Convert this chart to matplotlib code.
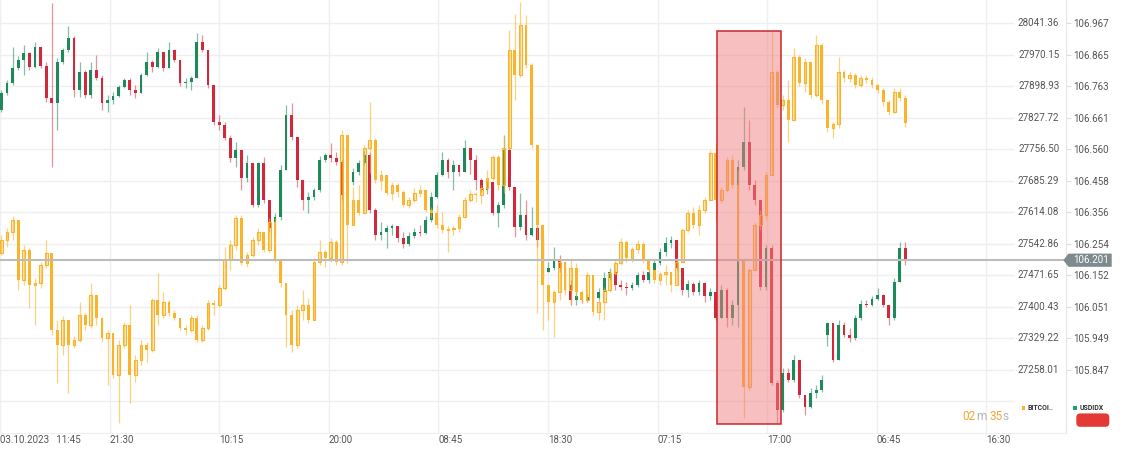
import numpy as np
import matplotlib
matplotlib.use('Agg')
import matplotlib.pyplot as plt
import matplotlib.transforms as mtransforms
from matplotlib.patches import Rectangle, Polygon, FancyBboxPatch
from matplotlib.lines import Line2D

plt.rcParams['font.family'] = ['Roboto', 'DejaVu Sans']

# ---------------- data ----------------
x_labels = ['03.10.2023   11:45', '21:30', '10:15', '20:00', '08:45', '18:30',
            '07:15', '17:00', '06:45', '16:30']
btc_ticks = [28041.36, 27970.15, 27898.93, 27827.72, 27756.50, 27685.29,
             27614.08, 27542.86, 27471.65, 27400.43, 27329.22, 27258.01]
usd_ticks = [106.967, 106.865, 106.763, 106.661, 106.560, 106.458,
             106.356, 106.254, 106.152, 106.051, 105.949, 105.847]

btc_open0 = 27522
btc_close = [
    27551, 27569, 27597, 27461, 27529, 27449, 27454, 27495, 27522, 27348,
    27314, 27370, 27314, 27325, 27382, 27359, 27427, 27375, 27330, 27341,
    27246, 27314, 27359, 27246, 27280, 27314, 27302, 27416, 27382, 27411,
    27386, 27375, 27352, 27348, 27375, 27325, 27352, 27409, 27404, 27443,
    27506, 27540, 27601, 27499, 27517, 27551, 27569, 27529, 27592, 27506,
    27454, 27382, 27314, 27393, 27404, 27370, 27502, 27524, 27511, 27547,
    27502, 27789, 27585, 27642, 27612, 27759, 27777, 27687, 27698, 27658,
    27676, 27660, 27630, 27642, 27658, 27664, 27619, 27612, 27585, 27574,
    27576, 27578, 27603, 27642, 27655, 27653, 27669, 27691, 27739, 27676,
    27759, 27981, 27924, 28037, 27947, 27766, 27585, 27449, 27411, 27434,
    27502, 27438, 27488, 27434, 27416, 27472, 27388, 27411, 27438, 27477,
    27499, 27547, 27511, 27531, 27542, 27506, 27483, 27461, 27474, 27479,
    27449, 27502, 27574, 27612, 27585, 27619, 27642, 27748, 27642, 27664,
    27732, 27676, 27506, 27219, 27483, 27585, 27608, 27698, 27931, 27857,
    27868, 27823, 27965, 27906, 27954, 27879, 27992, 27868, 27805, 27814,
    27931, 27918, 27924, 27902, 27918, 27913, 27902, 27890, 27863, 27841,
    27886, 27872, 27816]
btc_high = [
    27563, 27578, 27606, 27592, 27540, 27533, 27465, 27502, 27551, 27522,
    27370, 27379, 27336, 27334, 27411, 27386, 27454, 27427, 27375, 27348,
    27341, 27325, 27366, 27404, 27291, 27325, 27321, 27420, 27477, 27434,
    27416, 27393, 27375, 27359, 27382, 27382, 27359, 27416, 27416, 27449,
    27535, 27551, 27608, 27608, 27524, 27558, 27578, 27563, 27601, 27601,
    27506, 27454, 27393, 27404, 27438, 27420, 27511, 27551, 27529, 27556,
    27551, 27800, 27743, 27671, 27676, 27766, 27863, 27782, 27710, 27698,
    27682, 27680, 27664, 27649, 27669, 27676, 27664, 27626, 27630, 27615,
    27583, 27583, 27610, 27649, 27664, 27660, 27676, 27710, 27743, 27743,
    27784, 28026, 28062, 28089, 28060, 27952, 27766, 27585, 27449, 27438,
    27511, 27502, 27511, 27499, 27438, 27479, 27449, 27416, 27445, 27483,
    27506, 27556, 27551, 27535, 27551, 27547, 27511, 27483, 27479, 27495,
    27479, 27511, 27578, 27619, 27626, 27630, 27649, 27755, 27771, 27671,
    27739, 27743, 27710, 27506, 27488, 27592, 27619, 27705, 28022, 27936,
    27879, 27913, 27985, 27970, 27963, 27954, 28015, 27997, 27868, 27818,
    27965, 27936, 27931, 27929, 27924, 27924, 27920, 27904, 27895, 27868,
    27895, 27895, 27879]
btc_low = [
    27517, 27535, 27551, 27438, 27449, 27397, 27359, 27443, 27488, 27336,
    27228, 27291, 27205, 27307, 27321, 27348, 27352, 27359, 27321, 27223,
    27239, 27137, 27307, 27183, 27230, 27269, 27275, 27298, 27359, 27375,
    27379, 27370, 27348, 27336, 27343, 27321, 27321, 27348, 27382, 27400,
    27438, 27483, 27529, 27495, 27490, 27513, 27540, 27524, 27524, 27502,
    27445, 27309, 27298, 27307, 27370, 27364, 27370, 27495, 27490, 27502,
    27495, 27495, 27499, 27585, 27608, 27612, 27703, 27680, 27664, 27653,
    27642, 27649, 27626, 27624, 27637, 27649, 27615, 27601, 27578, 27567,
    27524, 27563, 27569, 27601, 27637, 27637, 27633, 27664, 27687, 27664,
    27658, 27759, 27868, 27920, 27940, 27759, 27386, 27348, 27370, 27332,
    27416, 27427, 27404, 27422, 27409, 27411, 27379, 27370, 27370, 27434,
    27472, 27495, 27502, 27502, 27522, 27499, 27477, 27454, 27449, 27449,
    27434, 27449, 27502, 27569, 27578, 27563, 27612, 27642, 27597, 27635,
    27660, 27669, 27502, 27149, 27212, 27483, 27574, 27597, 27698, 27850,
    27845, 27773, 27823, 27900, 27886, 27872, 27875, 27859, 27796, 27782,
    27805, 27909, 27909, 27895, 27897, 27906, 27895, 27884, 27854, 27834,
    27838, 27866, 27807]

usd_open0 = 106.687
usd_close = [
    106.742, 106.774, 106.822, 106.848, 106.871, 106.826, 106.890, 106.829, 106.725, 106.709,
    106.842, 106.881, 106.919, 106.751, 106.810, 106.735, 106.816, 106.790, 106.709, 106.719,
    106.732, 106.761, 106.784, 106.751, 106.742, 106.800, 106.842, 106.826, 106.874, 106.822,
    106.881, 106.848, 106.774, 106.777, 106.790, 106.906, 106.881, 106.768, 106.648, 106.638,
    106.596, 106.531, 106.557, 106.467, 106.515, 106.379, 106.515, 106.396, 106.305, 106.341,
    106.493, 106.670, 106.600, 106.460, 106.396, 106.405, 106.428, 106.525, 106.541, 106.531,
    106.518, 106.412, 106.454, 106.486, 106.515, 106.541, 106.363, 106.282, 106.292, 106.305,
    106.312, 106.273, 106.253, 106.279, 106.292, 106.289, 106.331, 106.405, 106.476, 106.525,
    106.486, 106.509, 106.486, 106.564, 106.525, 106.460, 106.428, 106.454, 106.354, 106.379,
    106.557, 106.438, 106.308, 106.347, 106.282, 106.305, 106.266, 106.163, 106.176, 106.202,
    106.176, 106.121, 106.072, 106.085, 106.072, 106.082, 106.079, 106.098, 106.143, 106.163,
    106.121, 106.114, 106.111, 106.121, 106.153, 106.137, 106.163, 106.192, 106.227, 106.257,
    106.266, 106.176, 106.105, 106.124, 106.098, 106.127, 106.085, 106.098, 106.014, 106.105,
    106.014, 106.056, 106.502, 106.583, 106.444, 106.396, 106.114, 106.240, 105.804, 105.717,
    105.836, 105.814, 105.878, 105.765, 105.726, 105.771, 105.781, 105.814, 105.998, 105.878,
    105.992, 105.959, 105.949, 106.014, 106.059, 106.056, 106.075, 106.088, 106.056, 106.014,
    106.131, 106.240, 106.201]
usd_high = [
    106.751, 106.784, 106.890, 106.861, 106.897, 106.874, 106.906, 106.890, 106.842, 107.033,
    106.855, 106.887, 106.958, 106.926, 106.842, 106.816, 106.842, 106.864, 106.800, 106.735,
    106.745, 106.768, 106.790, 106.790, 106.768, 106.806, 106.874, 106.848, 106.887, 106.874,
    106.906, 106.884, 106.848, 106.790, 106.797, 106.936, 106.929, 106.881, 106.768, 106.670,
    106.648, 106.606, 106.583, 106.557, 106.541, 106.515, 106.520, 106.535, 106.396, 106.354,
    106.509, 106.703, 106.709, 106.573, 106.460, 106.422, 106.434, 106.538, 106.548, 106.580,
    106.551, 106.525, 106.467, 106.499, 106.525, 106.554, 106.551, 106.370, 106.325, 106.315,
    106.318, 106.305, 106.292, 106.292, 106.305, 106.315, 106.344, 106.422, 106.486, 106.551,
    106.531, 106.525, 106.509, 106.590, 106.548, 106.541, 106.467, 106.460, 106.434, 106.389,
    106.606, 106.564, 106.373, 106.418, 106.396, 106.373, 106.315, 106.273, 106.195, 106.244,
    106.218, 106.176, 106.137, 106.121, 106.098, 106.092, 106.105, 106.111, 106.163, 106.176,
    106.163, 106.137, 106.131, 106.131, 106.163, 106.166, 106.176, 106.202, 106.240, 106.276,
    106.279, 106.266, 106.176, 106.137, 106.131, 106.137, 106.131, 106.111, 106.098, 106.121,
    106.111, 106.072, 106.525, 106.696, 106.654, 106.460, 106.363, 106.250, 106.250, 105.814,
    105.852, 105.852, 105.894, 105.878, 105.765, 105.788, 105.797, 105.830, 106.001, 105.992,
    106.008, 106.001, 105.982, 106.024, 106.072, 106.072, 106.085, 106.111, 106.092, 106.056,
    106.143, 106.260, 106.260]
usd_low = [
    106.680, 106.735, 106.768, 106.816, 106.800, 106.816, 106.822, 106.822, 106.712, 106.502,
    106.622, 106.835, 106.874, 106.729, 106.729, 106.725, 106.725, 106.784, 106.687, 106.680,
    106.706, 106.729, 106.758, 106.735, 106.725, 106.742, 106.797, 106.810, 106.822, 106.813,
    106.822, 106.842, 106.764, 106.758, 106.751, 106.790, 106.874, 106.758, 106.638, 106.622,
    106.590, 106.518, 106.502, 106.428, 106.454, 106.373, 106.373, 106.386, 106.292, 106.282,
    106.331, 106.493, 106.590, 106.438, 106.363, 106.354, 106.396, 106.422, 106.518, 106.518,
    106.509, 106.396, 106.409, 106.444, 106.476, 106.509, 106.354, 106.266, 106.266, 106.240,
    106.282, 106.260, 106.240, 106.247, 106.273, 106.279, 106.286, 106.325, 106.402, 106.473,
    106.467, 106.428, 106.473, 106.486, 106.480, 106.428, 106.422, 106.415, 106.347, 106.308,
    106.370, 106.428, 106.276, 106.299, 106.266, 106.279, 106.244, 106.143, 106.163, 106.169,
    106.163, 106.105, 106.056, 106.056, 106.063, 106.066, 106.066, 106.072, 106.098, 106.137,
    106.105, 106.105, 106.088, 106.105, 106.114, 106.131, 106.127, 106.153, 106.185, 106.215,
    106.240, 106.169, 106.088, 106.082, 106.088, 106.088, 106.066, 106.072, 106.008, 106.014,
    105.985, 105.992, 105.985, 106.493, 106.428, 106.379, 106.105, 106.105, 105.797, 105.674,
    105.710, 105.807, 105.807, 105.755, 105.700, 105.723, 105.755, 105.775, 105.924, 105.872,
    105.878, 105.953, 105.937, 105.943, 106.008, 106.050, 106.053, 106.072, 106.050, 105.992,
    106.008, 106.131, 106.185]
usd_gap_index = 148          # session gap: this candle opens away from prior close
usd_gap_open = 105.959
usd_last = 106.201

highlight_idx = [128.2, 139.7]        # highlighted time window (candle index)
highlight_btc = [27135, 28024]        # highlighted price band (BTC scale)

timer_text = '02m 35s'
timer_orange = [(0, 2), (4, 6)]      # character spans drawn in orange
legend_names = ['BITCOI..', 'USDIDX']

# ---------------- colours ----------------
BTC_COL = '#f9b42a'
USD_UP = '#1e8a5c'
USD_DN = '#d2283b'
GRID = '#efefef'
TXT = '#555555'

# ---------------- figure layout ----------------
W, H = 1123, 450
fig = plt.figure(figsize=(W / 100, H / 100), dpi=100, facecolor='white')
ax_right_px = 1065.7
plot_h_px = 433
ax_u = fig.add_axes([0, (H - plot_h_px) / H, ax_right_px / W, plot_h_px / H])
ax_b = ax_u.twinx()

px_per_candle = 5.58
first_px = 1.5
x_left = -first_px / px_per_candle
x_right = (ax_right_px - first_px) / px_per_candle
candles_per_label = 19.64

grid_px = 31.49
first_grid_px = 23.3


def ylims(ticks):
    step = (ticks[0] - ticks[-1]) / (len(ticks) - 1)
    top = ticks[0] + step * first_grid_px / grid_px
    bot = top - step * plot_h_px / grid_px
    return bot, top, step


ub, ut, ustep = ylims(usd_ticks)
bb, bt, bstep = ylims(btc_ticks)


def draw_candles(ax, open0, closes, highs, lows, up_body, dn_body,
                 up_wick, dn_wick, min_h, width, gap=None):
    closes = np.asarray(closes, float)
    opens = np.concatenate([[open0], closes[:-1]])
    if gap is not None:
        opens[gap[0]] = gap[1]
    highs = np.maximum(np.asarray(highs, float), np.maximum(opens, closes))
    lows = np.minimum(np.asarray(lows, float), np.minimum(opens, closes))
    x = np.arange(len(closes))
    up = closes >= opens
    ax.vlines(x[up], lows[up], highs[up], color=up_wick, lw=0.9, zorder=2)
    ax.vlines(x[~up], lows[~up], highs[~up], color=dn_wick, lw=0.9, zorder=2)
    bottom = np.minimum(opens, closes)
    height = np.maximum(np.abs(closes - opens), min_h)
    ax.bar(x[up], height[up], width, bottom[up], zorder=3, **up_body)
    ax.bar(x[~up], height[~up], width, bottom[~up], zorder=3, **dn_body)


# USD candles (lower layer)
draw_candles(ax_u, usd_open0, usd_close, usd_high, usd_low,
             dict(color=USD_UP, linewidth=0),
             dict(color=USD_DN, linewidth=0),
             (0.12, 0.54, 0.36, 0.55), (0.82, 0.16, 0.23, 0.5),
             0.002, 0.5, gap=(usd_gap_index, usd_gap_open))

# BTC candles (upper layer, hollow when rising)
draw_candles(ax_b, btc_open0, btc_close, btc_high, btc_low,
             dict(facecolor=(0.976, 0.706, 0.165, 0.25), edgecolor=BTC_COL, linewidth=0.8),
             dict(color=BTC_COL, linewidth=0),
             (0.976, 0.706, 0.165, 0.6), (0.976, 0.706, 0.165, 0.6),
             1.5, 0.5)

for ax in (ax_u, ax_b):
    ax.set_xlim(x_left, x_right)
ax_u.set_ylim(ub, ut)
ax_b.set_ylim(bb, bt)

# grid lines
tick_pos = x_left + np.arange(len(x_labels)) * candles_per_label
ax_u.set_xticks(tick_pos)
ax_u.set_xticklabels(x_labels, ha='left')
ax_u.tick_params(axis='x', length=0, pad=1.6, labelsize=7, labelcolor=TXT)
ax_u.grid(axis='x', color=GRID, lw=1)
ax_u.set_axisbelow(True)
grid_frac = 1013 / ax_right_px
for v in list(usd_ticks) + [usd_ticks[-1] - ustep]:
    ax_u.axhline(v, xmin=0, xmax=grid_frac, color=GRID, lw=1, zorder=0)

# USD axis labels on right
ax_u.yaxis.tick_right()
ax_u.set_yticks(usd_ticks)
ax_u.set_yticklabels([f'{v:.3f}' for v in usd_ticks])
ax_u.tick_params(axis='y', length=3.3, width=0.8, color='#dcdcdc', pad=1.8,
                 labelsize=7.1, labelcolor=TXT)
for s in ('top', 'left'):
    ax_u.spines[s].set_visible(False)
ax_u.spines['right'].set_color('#e6e6e6')
ax_u.spines['bottom'].set_color('#eeeeee')

# BTC axis labels
ax_b.set_yticks([])
ax_b.tick_params(right=False, labelright=False)
for s in ax_b.spines.values():
    s.set_visible(False)
btrans = mtransforms.blended_transform_factory(ax_b.transAxes, ax_b.transData)
for v in btc_ticks:
    ax_b.text(1059.3 / ax_right_px, v, f'{v:.2f}', transform=btrans, ha='right',
              va='center', fontsize=7.1, color=TXT)

# last-price line
ptrans = mtransforms.blended_transform_factory(ax_b.transAxes, ax_u.transData)
ax_b.add_line(Line2D([0, 1063.3 / ax_right_px], [usd_last, usd_last], transform=ptrans,
                     color='#b9bdc0', lw=1.5, zorder=4))

# highlight window
hx0, hx1 = highlight_idx
hy0, hy1 = highlight_btc
ax_b.add_patch(Rectangle((hx0, hy0), hx1 - hx0, hy1 - hy0, facecolor='#f08080',
                         alpha=0.5, edgecolor='none', zorder=5))
ax_b.add_patch(Rectangle((hx0, hy0), hx1 - hx0, hy1 - hy0, fill=False,
                         edgecolor='#c8282d', lw=1.1, zorder=6))

# last-price tag
ID = mtransforms.IdentityTransform()
yp = ax_u.transData.transform((0, usd_last))[1]
xr = ax_u.transAxes.transform((1, 0))[0]
fig.add_artist(Polygon([[xr - 2.4, yp], [xr + 2.8, yp + 6.6], [xr + 46, yp + 6.6],
                        [xr + 46, yp - 6.6], [xr + 2.8, yp - 6.6]], closed=True,
                       transform=ID, facecolor='#7e8b8e', edgecolor='none'))
fig.text(xr + 7, yp, f'{usd_last:.3f}', transform=ID, color='white', fontsize=7.1,
         ha='left', va='center')

# countdown timer: gray full string, orange digit groups placed by measured prefix widths
renderer = fig.canvas.get_renderer()
tx0, tby, tfs = 962.7, H - 420, 8.6


def ink_width(s):
    t = fig.text(0, 0, s, transform=ID, fontsize=tfs)
    w = t.get_window_extent(renderer).width
    t.remove()
    return w


segments = []
prev = 0
for a, b in timer_orange:
    if a > prev:
        segments.append((prev, a, '#b3b3b3'))
    segments.append((a, b, '#f5a637'))
    prev = b
if prev < len(timer_text):
    segments.append((prev, len(timer_text), '#b3b3b3'))
for a, b, c in segments:
    piece = timer_text[a:b].strip()
    if not piece:
        continue
    right = tx0 + ink_width(timer_text[:b].rstrip())
    fig.text(right, tby, piece, transform=ID, color=c, fontsize=tfs,
             ha='right', va='baseline')

# legend
fig.add_artist(Rectangle((1021.7, H - 410), 3.6, 3.6, transform=ID, facecolor=BTC_COL,
                         edgecolor='none'))
fig.text(1028, H - 408.3, legend_names[0], transform=ID, fontsize=5, weight='bold',
         color='#333333', ha='left', va='center')
fig.add_artist(Rectangle((1073.3, H - 410), 3.6, 3.6, transform=ID, facecolor='#22a06b',
                         edgecolor='none'))
fig.text(1080, H - 408.3, legend_names[1], transform=ID, fontsize=5, weight='bold',
         color='#333333', ha='left', va='center')
fig.add_artist(FancyBboxPatch((1076.3, H - 426.8), 33, 13.4,
                              boxstyle='round,pad=0,rounding_size=4', transform=ID,
                              facecolor='#e53935', edgecolor='none'))

fig.savefig('out.png', dpi=100, facecolor='white')
